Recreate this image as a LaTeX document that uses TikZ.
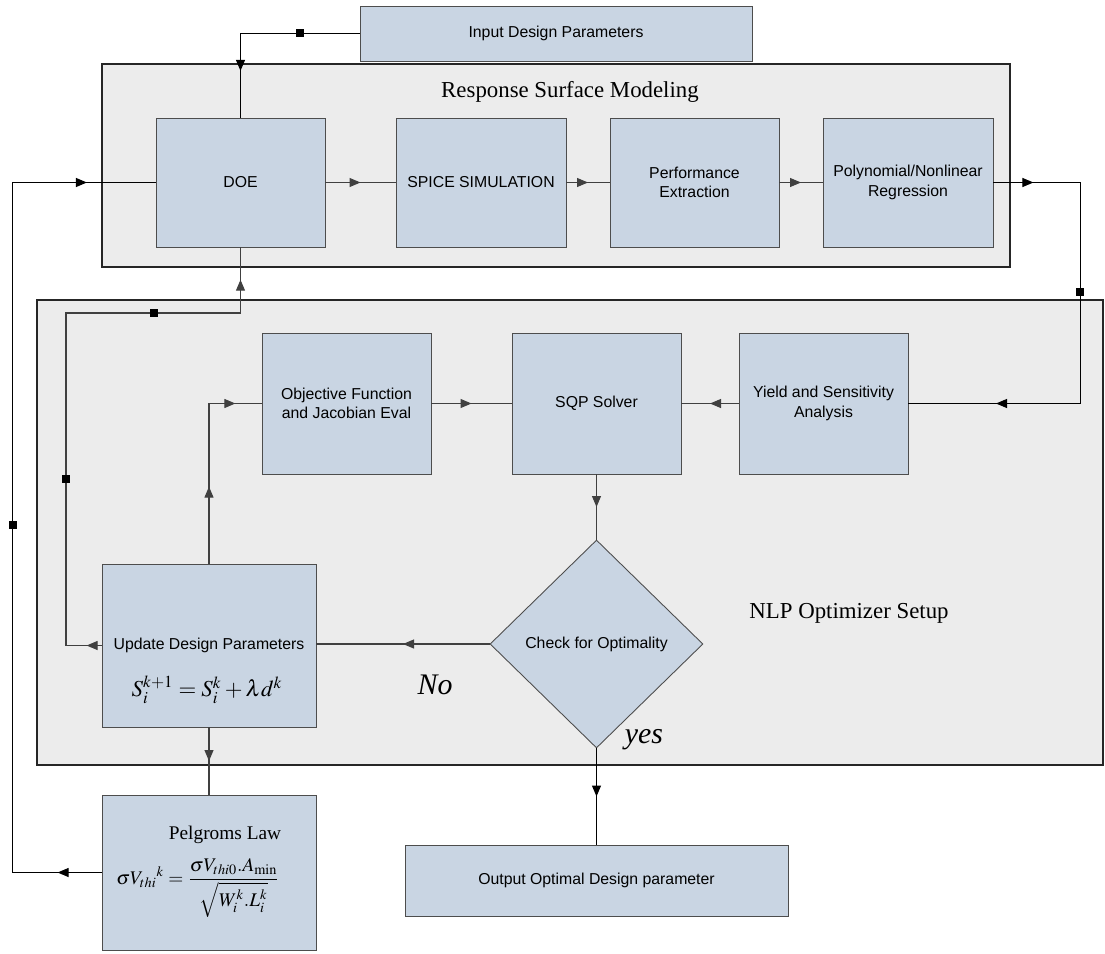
\documentclass[tikz,border=0pt]{standalone}
\usepackage{mathptmx}
\usepackage[no-math]{fontspec}
\setmainfont{Liberation Serif}
\setsansfont{Liberation Sans}
\usetikzlibrary{shapes.geometric,arrows.meta,decorations.markings}
\definecolor{boxblue}{HTML}{C9D5E3}
\definecolor{panelgray}{HTML}{ECECEC}
\definecolor{edgegray}{HTML}{4D4D4D}

\begin{document}
\begin{tikzpicture}[x=0.02cm,y=-0.02cm,
    blk/.style={draw=edgegray,fill=boxblue,line width=0.5pt,font=\sffamily\fontsize{9}{11}\selectfont,align=center,inner sep=2pt},
    panel/.style={draw=black!85,fill=panelgray,line width=0.9pt},
    ttl/.style={font=\fontsize{13}{15}\selectfont},
    ans/.style={font=\itshape\fontsize{17}{19}\selectfont},
    wire/.style={line width=0.6pt},
    inwire/.style={line width=0.6pt,draw=black!75},
    arr/.style={postaction={decorate,decoration={markings,mark=at position #1 with {\arrow{Triangle[length=0.22cm,width=0.18cm]}}}}},
    sq/.style={postaction={decorate,decoration={markings,mark=at position #1 with {\fill (-0.08cm,-0.08cm) rectangle (0.08cm,0.08cm);}}}}]
    \useasboundingbox (0,0) rectangle (1105,953);

    \node[panel,minimum width=18.16cm,minimum height=4.06cm] (rsm) at (556,165.5) {};
    \node[panel,minimum width=21.32cm,minimum height=9.3cm] (nlp) at (570,532.5) {};
    \node[ttl] (rsm-title) at (570,92) {Response Surface Modeling};
    \node[ttl] (nlp-title) at (849,613) {NLP Optimizer Setup};

    \node[blk,minimum width=7.84cm,minimum height=1.1cm] (inp) at (556,33.5) {Input Design Parameters};
    \node[blk,minimum width=3.38cm,minimum height=2.58cm] (doe) at (240.5,182.5) {DOE};
    \node[blk,minimum width=3.4cm,minimum height=2.58cm] (spice) at (481,182.5) {SPICE SIMULATION};
    \node[blk,minimum width=3.38cm,minimum height=2.58cm] (perf) at (694.5,182.5) {Performance\\Extraction};
    \node[blk,minimum width=3.4cm,minimum height=2.58cm] (poly) at (908,182.5) {Polynomial/Nonlinear\\Regression};

    \node[blk,minimum width=3.38cm,minimum height=2.82cm] (obj) at (346.5,403.5) {Objective Function\\and Jacobian Eval};
    \node[blk,minimum width=3.38cm,minimum height=2.82cm] (sqp) at (596.5,403.5) {SQP Solver};
    \node[blk,minimum width=3.38cm,minimum height=2.82cm] (yield) at (823.5,403.5) {Yield and Sensitivity\\Analysis};
    \node[blk,diamond,minimum width=4.26cm,minimum height=4.16cm,inner sep=0pt] (chk) at (596.5,644) {Check for Optimality};
    \node[blk,minimum width=4.28cm,minimum height=3.26cm] (upd) at (209,645.5) {Update Design Parameters};
    \node[font=\fontsize{13}{15}\selectfont,inner sep=0pt] (upd-eq) at (207,690) {$S_i^{k+1} = S_i^{k} + \lambda d^{k}$};
    \node[ans] (no) at (435,685) {No};
    \node[ans] (yes) at (644,740) {yes};

    \node[blk,minimum width=7.66cm,minimum height=1.42cm] (out) at (596.5,880.5) {Output Optimal Design parameter};
    \node[blk,minimum width=4.28cm,minimum height=3.1cm] (pelg) at (209,872.5) {};
    \node[font=\fontsize{11}{13}\selectfont,inner sep=0pt] (pelg-title) at (225,835) {Pelgroms Law};
    \node[font=\fontsize{11}{13}\selectfont,inner sep=0pt] (pelg-eq) at (198,888) {$\displaystyle\sigma V_{thi}{}^{k} = \frac{\sigma V_{thi0}.A_{\min}}{\sqrt{W_i^{k}.L_i^{k}}}$};

    \coordinate (bend) at (66,313);

    \draw[wire,sq=1.2cm,arr=3.13cm] (inp.west) -| (doe.north);
    \draw[inwire,arr=0.5] (doe.east) -- (spice.west);
    \draw[inwire,arr=0.5] (spice.east) -- (perf.west);
    \draw[inwire,arr=0.5] (perf.east) -- (poly.west);
    \draw[wire,arr=0.8cm,sq=3.93cm,arr=7.85cm] (poly.east) -- ++(87,0) |- (yield.east);
    \draw[inwire,arr=0.5] (yield.west) -- (sqp.east);
    \draw[inwire,arr=0.5] (obj.east) -- (sqp.west);
    \draw[inwire,arr=0.5] (sqp.south) -- (chk.north);
    \draw[inwire,arr=0.5] (chk.west) -- (chk.west -| upd.east);
    \draw[wire,arr=0.5] (chk.south) -- (out.north);
    \draw[inwire,arr=1.54cm,arr=3.73cm] (upd.north) |- (obj.west);
    \draw[inwire,arr=0.3cm,sq=4.04cm,sq=9.12cm,arr=11.52cm] (upd.west) -| (bend) -| (doe.south);
    \draw[inwire,arr=0.5] (upd.south) -- (pelg.north);
    \draw[wire,arr=0.88cm,sq=8.74cm,arr=17.07cm] (pelg.west) -- ++(-89,0) |- (doe.west);
\end{tikzpicture}
\end{document}
